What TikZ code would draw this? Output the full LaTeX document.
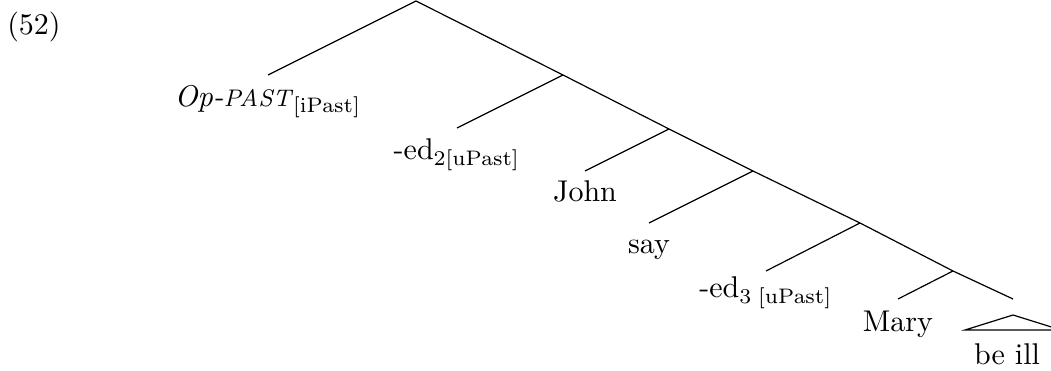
\documentclass[tikz,border=0pt]{standalone}
\usepackage{amsmath}
\begin{document}
\begin{tikzpicture}[x=0.33333pt,y=-0.33333pt,
  branch/.style={line width=0.4pt},
  leaf/.style={anchor=base,inner sep=0pt}]
\useasboundingbox (0,0) rectangle (1051,371);

% example number
\node[leaf] (num) at (34,35) {(52)};

% branching points on the right spine
\coordinate (n0) at (416,1);
\coordinate (n1) at (563,75);
\coordinate (n2) at (669,129);
\coordinate (n3) at (753,171);
\coordinate (n4) at (860,223);
\coordinate (n5) at (953,271);
\coordinate (n6) at (1013,299);

% lower ends of the left branches
\coordinate (l1) at (268,75);
\coordinate (l2) at (457,128);
\coordinate (l3) at (585,171);
\coordinate (l4) at (649,223);
\coordinate (l5) at (766,271);
\coordinate (l6) at (898,299);

% spine
\draw[branch] (n0) -- (n1) -- (n2) -- (n3) -- (n4) -- (n5) -- (n6);
% left daughters
\draw[branch] (n0) -- (l1);
\draw[branch] (n1) -- (l2);
\draw[branch] (n2) -- (l3);
\draw[branch] (n3) -- (l4);
\draw[branch] (n4) -- (l5);
\draw[branch] (n5) -- (l6);

% terminal labels
\node[leaf] (opp) at (268,107) {\textit{Op-{\footnotesize PAST}}$_{\mathrm{[iPast]}}$};
\node[leaf] (ed2) at (457,160) {-ed$_{2[\mathrm{uPast}]}$};
\node[leaf] (john) at (585,202) {John};
\node[leaf] (say) at (649,254) {say};
\node[leaf] (ed3) at (766,298) {-ed$_{3\;[\mathrm{uPast}]}$};
\node[leaf] (mary) at (898,332) {Mary};

% roofed constituent
\coordinate (apex) at (1013,315);
\coordinate (bl) at (965,330);
\coordinate (br) at (1061,330);
\draw[branch] (apex) -- (bl) -- (br) -- cycle;
\node[leaf] (beill) at (1007,365) {be ill};
\end{tikzpicture}
\end{document}
